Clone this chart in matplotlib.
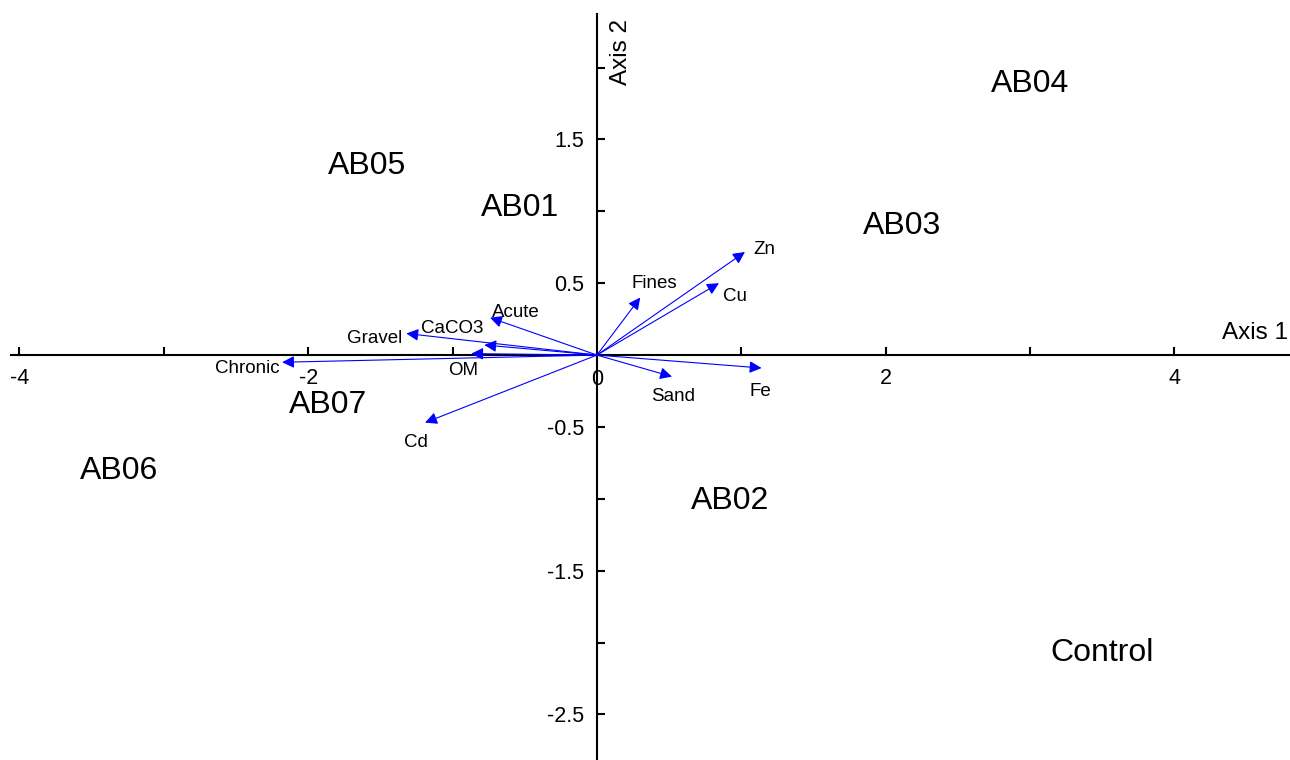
import matplotlib
matplotlib.use("Agg")
import matplotlib.pyplot as plt
from matplotlib.ticker import FixedLocator, FixedFormatter

plt.rcParams['font.family'] = ['Liberation Sans', 'DejaVu Sans']
plt.rcParams['axes.unicode_minus'] = False

# site scores (label centres)
sites = ['AB04', 'AB05', 'AB01', 'AB03', 'AB07', 'AB06', 'AB02', 'Control']
site_x = [3.00, -1.59, -0.53, 2.11, -1.86, -3.31, 0.92, 3.50]
site_y = [1.885, 1.315, 1.025, 0.90, -0.345, -0.805, -1.015, -2.07]

# variable vectors (arrow tips) and their label positions
variables = ['Zn', 'Cu', 'Fines', 'Fe', 'Sand', 'Acute', 'CaCO3', 'Gravel', 'OM', 'Chronic', 'Cd']
vec_x = [1.025, 0.845, 0.30, 1.14, 0.52, -0.74, -0.78, -1.32, -0.87, -2.18, -1.19]
vec_y = [0.717, 0.50, 0.40, -0.09, -0.15, 0.26, 0.07, 0.15, 0.01, -0.05, -0.47]
lab_x = [1.16, 0.955, 0.40, 1.13, 0.53, -0.56, -1.00, -1.54, -0.93, -2.42, -1.25]
lab_y = [0.735, 0.405, 0.495, -0.255, -0.285, 0.295, 0.185, 0.115, -0.105, -0.095, -0.605]

x_ticks = [-4, -3, -2, -1, 1, 2, 3, 4]
x_ticklabels = ['-4', '', '-2', '', '', '2', '', '4']
y_ticks = [-2.5, -2, -1.5, -1, -0.5, 0.5, 1, 1.5, 2]
y_ticklabels = ['-2.5', '', '-1.5', '', '-0.5', '0.5', '', '1.5', '']

fig = plt.figure(figsize=(12.9, 7.6), dpi=100)
ax = fig.add_axes([0, 0, 1, 1])
ax.set_xlim(-4.134, 4.80)
ax.set_ylim(-2.817, 2.47)

# axes crossing at the origin
ax.spines['left'].set_position(('data', 0))
ax.spines['bottom'].set_position(('data', 0))
ax.spines['right'].set_visible(False)
ax.spines['top'].set_visible(False)
ax.spines['left'].set_linewidth(1.5)
ax.spines['bottom'].set_linewidth(1.5)
ax.spines['bottom'].set_bounds(-4.06, 4.80)
ax.spines['left'].set_bounds(-2.817, 2.37)

ax.xaxis.set_major_locator(FixedLocator(x_ticks))
ax.xaxis.set_major_formatter(FixedFormatter(x_ticklabels))
ax.yaxis.set_major_locator(FixedLocator(y_ticks))
ax.yaxis.set_major_formatter(FixedFormatter(y_ticklabels))
ax.tick_params(axis='both', direction='in', length=6, width=1.5, labelsize=15.5)
ax.tick_params(axis='x', pad=9)
ax.tick_params(axis='y', pad=9)
ax.text(0, -0.1, '0', ha='center', va='top', fontsize=15.5)

ax.text(4.56, 0.08, 'Axis 1', ha='center', va='bottom', fontsize=17.5)
ax.text(0.17, 2.11, 'Axis 2', ha='center', va='center', rotation=90, fontsize=17.5)

for name, x, y in zip(sites, site_x, site_y):
    ax.text(x, y, name, ha='center', va='center', fontsize=23)

for name, x, y, lx, ly in zip(variables, vec_x, vec_y, lab_x, lab_y):
    ax.annotate('', xy=(x, y), xytext=(0, 0),
                arrowprops=dict(arrowstyle='-|>', color='blue', lw=0.8,
                                mutation_scale=18, shrinkA=0, shrinkB=0))
    ax.text(lx, ly, name, ha='center', va='center', fontsize=13.5)

fig.savefig('out.png', dpi=100)
